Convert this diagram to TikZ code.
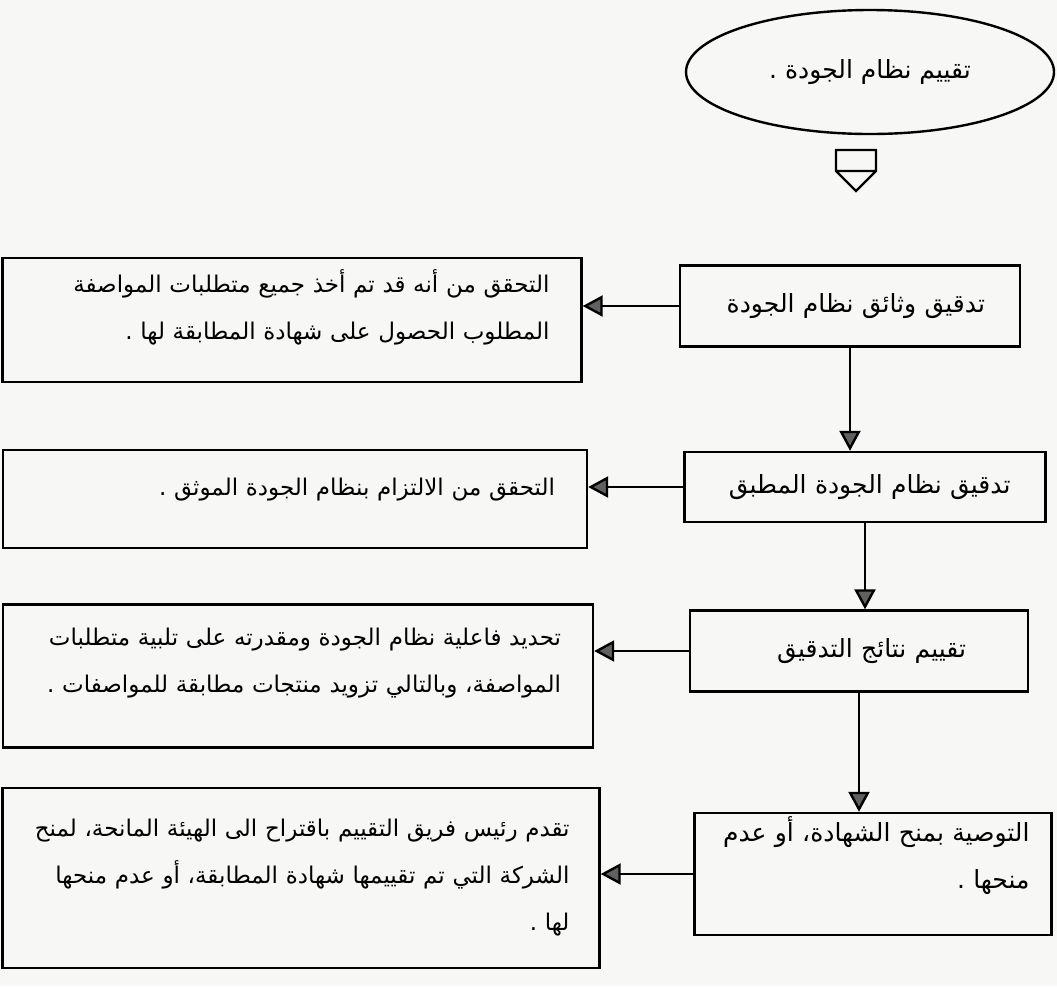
\documentclass[tikz,border=0pt]{standalone}
\usepackage{fontspec}
\usepackage{xcolor}
\newfontfamily\arabicfont[Script=Arabic]{DejaVu Sans}
\TeXXeTstate=1
\usetikzlibrary{arrows.meta,shapes.geometric}
\definecolor{paper}{RGB}{247,247,245}
\newcommand{\arb}[1]{\mbox{\beginR #1\endR}}

\begin{document}
\begin{tikzpicture}[x=1pt,y=-1pt,
  font=\fontsize{23}{47}\selectfont\arabicfont,
  box/.style={draw,line width=2.4pt,inner ysep=0pt,align=right,fill=paper},
  stp/.style={box,inner xsep=35pt,font=\fontsize{25}{47}\selectfont\arabicfont},
  nte/.style={box,inner xsep=32pt},
  lift/.style={text depth=#1},
  ar/.style={-{Triangle[length=20pt,width=21pt,fill=black!62]},line width=2.4pt}]
% page
\fill[paper] (0,0) rectangle (1057,986);
\useasboundingbox (0,0) rectangle (1057,986);
% start and off-page mark
\node[draw,ellipse,line width=2.4pt,minimum width=368pt,minimum height=124pt,inner sep=0pt,
  font=\fontsize{25}{47}\selectfont\arabicfont] (start) at (870,72) {\arb{تقييم نظام الجودة .}};
\draw[line width=2.4pt] (836,150) -- (876,150) -- (876,171) -- (856,191) -- (836,171) -- cycle
  (836,171) -- (876,171);
% main steps
\node[stp,minimum width=340pt,text width=270pt,minimum height=81pt] (s1) at (850,306) {\arb{تدقيق وثائق نظام الجودة}};
\node[stp,minimum width=361pt,text width=291pt,minimum height=70pt] (s2) at (865,487) {\arb{تدقيق نظام الجودة المطبق}};
\node[stp,inner xsep=62pt,minimum width=338pt,text width=214pt,minimum height=81pt] (s3) at (859,651) {\arb{تقييم نتائج التدقيق}};
\node[stp,lift=90pt,inner xsep=22pt,minimum width=357pt,text width=313pt,minimum height=122pt] (s4) at (873,874) {\arb{التوصية بمنح الشهادة، أو عدم}\\\arb{منحها .}};
% notes
\node[nte,lift=78pt,minimum width=579pt,text width=515pt,minimum height=124pt] (n1) at (292,320) {\arb{التحقق من أنه قد تم أخذ جميع متطلبات المواصفة}\\\arb{المطلوب الحصول على شهادة المطابقة لها .}};
\node[nte,lift=24pt,minimum width=584pt,text width=520pt,minimum height=98pt] (n2) at (295,499) {\arb{التحقق من الالتزام بنظام الجودة الموثق .}};
\node[nte,lift=78pt,minimum width=590pt,text width=526pt,minimum height=143pt] (n3) at (298,676) {\arb{تحديد فاعلية نظام الجودة ومقدرته على تلبية متطلبات}\\\arb{المواصفة، وبالتالي تزويد منتجات مطابقة للمواصفات .}};
\node[nte,inner xsep=30pt,minimum width=597pt,text width=537pt,minimum height=180pt] (n4) at (301,878) {\arb{تقدم رئيس فريق التقييم باقتراح الى الهيئة المانحة، لمنح}\\\arb{الشركة التي تم تقييمها شهادة المطابقة، أو عدم منحها}\\\arb{لها .}};
% connectors
\draw[ar] (s1.south) -- (s1.south |- s2.north);
\draw[ar] (s2.south) -- (s2.south |- s3.north);
\draw[ar] (s3.south) -- (s3.south |- s4.north);
\draw[ar] (s1.west) -- (s1.west -| n1.east);
\draw[ar] (s2.west) -- (s2.west -| n2.east);
\draw[ar] (s3.west) -- (s3.west -| n3.east);
\draw[ar] (s4.west) -- (s4.west -| n4.east);
\end{tikzpicture}
\end{document}
